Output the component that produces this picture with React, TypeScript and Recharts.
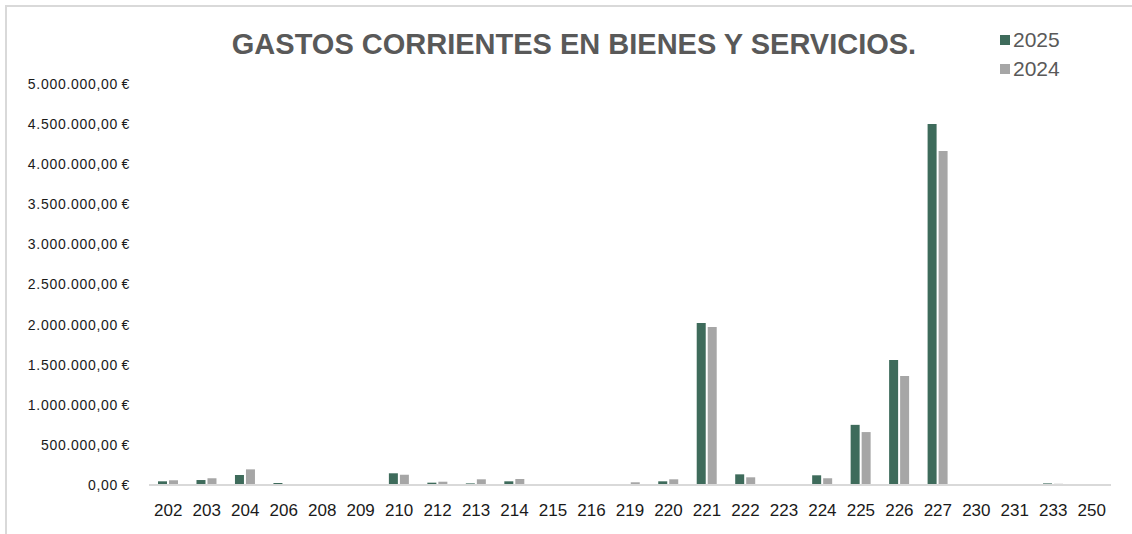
import React from 'react';
import { BarChart, Bar, XAxis, YAxis } from 'recharts';

const categories = ['202', '203', '204', '206', '208', '209', '210', '212', '213', '214', '215', '216', '219', '220', '221', '222', '223', '224', '225', '226', '227', '230', '231', '233', '250'];
const values2025 = [46000, 62000, 125000, 25000, 0, 10000, 146000, 29000, 20000, 46000, 0, 0, 10000, 46000, 2020000, 133000, 0, 121000, 750000, 1560000, 4500000, 4000, 5000, 20000, 1000];
const values2024 = [59000, 84000, 195000, 12000, 0, 10000, 128000, 41000, 71000, 75000, 0, 0, 34000, 71000, 1970000, 96000, 0, 84000, 660000, 1360000, 4165000, 0, 5000, 15000, 0];
const yTicks = [0, 500000, 1000000, 1500000, 2000000, 2500000, 3000000, 3500000, 4000000, 4500000, 5000000];
const seriesLabels = ['2025', '2024'];

const data = categories.map((c, i) => ({ cat: c, v2025: values2025[i], v2024: values2024[i] }));

const GREEN = '#3e6b5b';
const GRAY = '#a6a6a6';
const TEXT = '#595959';
const FONT = 'Liberation Sans, Arial, sans-serif';

const formatEuro = (v: number) => {
  const parts = v.toFixed(2).split('.');
  const intPart = parts[0].replace(/\B(?=(\d{3})+(?!\d))/g, '.');
  return `${intPart},${parts[1]}\u2009€`;
};

const LegendBox = () => (
  <div style={{ position: 'absolute', left: 1000, top: 25, fontFamily: FONT, fontSize: 21, color: TEXT }}>
    {[{ label: seriesLabels[0], color: GREEN }, { label: seriesLabels[1], color: GRAY }].map((item) => (
      <div key={item.label} style={{ display: 'flex', alignItems: 'center', height: 29 }}>
        <span style={{ display: 'inline-block', width: 10, height: 10, background: item.color, marginRight: 3 }} />
        <span>{item.label}</span>
      </div>
    ))}
  </div>
);

export default function App() {
  return (
    <div style={{ position: 'absolute', left: 0, top: 0, width: 1132, height: 534, background: '#fff', overflow: 'hidden' }}>
      <div style={{ position: 'absolute', left: 5, top: 5, right: -5, bottom: -5, borderTop: '2px solid #d9d9d9', borderLeft: '2px solid #d9d9d9' }} />
      <div
        style={{
          position: 'absolute',
          left: 0,
          width: 1148,
          top: 28,
          textAlign: 'center',
          fontFamily: FONT,
          fontWeight: 'bold',
          fontSize: 29,
          color: TEXT,
        }}
      >
        GASTOS CORRIENTES EN BIENES Y SERVICIOS.
      </div>
      <LegendBox />
      <div style={{ position: 'absolute', left: 0, top: 0 }}>
        <BarChart width={1132} height={534} data={data} margin={{ top: 84, right: 21, left: 0, bottom: 0 }} barSize={9} barGap={2}>
          <XAxis
            dataKey="cat"
            height={49}
            axisLine={{ stroke: '#d9d9d9', strokeWidth: 2 }}
            tickLine={false}
            tickSize={0}
            tickMargin={19}
            interval={0}
            tick={{ fontSize: 17, fill: '#1a1a1a', fontFamily: FONT }}
          />
          <YAxis
            width={149}
            domain={[0, 5000000]}
            ticks={yTicks}
            tickFormatter={formatEuro}
            axisLine={false}
            tickLine={false}
            tickSize={0}
            tickMargin={19}
            tick={{ fontSize: 14, fill: '#1a1a1a', fontFamily: FONT, letterSpacing: 0.7 }}
          />
          <Bar dataKey="v2025" name="2025" fill={GREEN} isAnimationActive={false} />
          <Bar dataKey="v2024" name="2024" fill={GRAY} isAnimationActive={false} />
        </BarChart>
      </div>
    </div>
  );
}
